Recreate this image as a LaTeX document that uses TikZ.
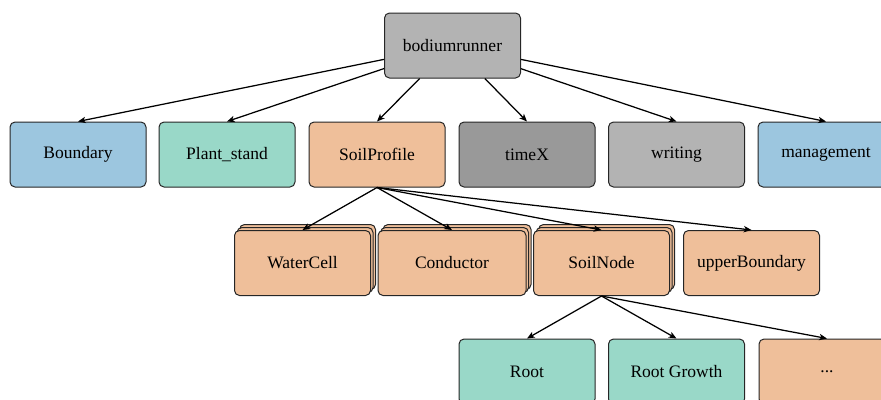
\documentclass[tikz,border=0pt]{standalone}
\usepackage{fontspec}
\setmainfont{Liberation Serif}
\usetikzlibrary{shadows,arrows.meta}
\definecolor{cblue}{HTML}{9CC6DF}
\definecolor{cgreen}{HTML}{99D8C8}
\definecolor{corange}{HTML}{EFBF9A}
\definecolor{cgrayA}{HTML}{B3B3B3}
\definecolor{cgrayB}{HTML}{999999}
\tikzset{
  box/.style={draw=black!85, line width=0.6pt, rounded corners=3pt,
    minimum width=81.6pt, minimum height=39pt, inner sep=0pt,
    font=\fontsize{10.5}{12}\selectfont},
  stackbox/.style={double copy shadow={shadow xshift=1.5pt, shadow yshift=1.8pt,
    fill=#1, draw=black!85, line width=0.6pt}},
  edge/.style={-{Stealth[length=4.6pt, width=3.8pt, inset=1.2pt]}, line width=0.75pt}
}
\begin{document}
\begin{tikzpicture}[x=0.6pt, y=0.6pt]
\clip (0,0) rectangle (881,-399);
% level 0
\node[box, fill=cgrayA] (root) at (452.5,-45.5) {bodiumrunner};
% level 1
\node[box, fill=cblue]   (bnd)  at (78,-154.5)    {Boundary};
\node[box, fill=cgreen]  (ps)   at (227,-154.5)   {Plant\_stand};
\node[box, fill=corange] (sp)   at (377,-154.5)   {SoilProfile};
\node[box, fill=cgrayB]  (tx)   at (527,-154.5)   {timeX};
\node[box, fill=cgrayA]  (wr)   at (676.5,-154.5) {writing};
\node[box, fill=cblue]   (mg)   at (826,-154.5)   {management};
% level 2
\node[box, fill=corange, stackbox=corange] (wc) at (302.5,-263) {WaterCell};
\node[box, fill=corange, stackbox=corange, minimum width=88.8pt] (cd) at (452,-263) {Conductor};
\node[box, fill=corange, stackbox=corange] (sn) at (601.5,-263) {SoilNode};
\node[box, fill=corange] (ub) at (751.5,-263) {upperBoundary};
% level 3
\node[box, fill=cgreen]  (rt) at (527,-371.5)   {Root};
\node[box, fill=cgreen]  (rg) at (676.5,-371.5) {Root Growth};
\node[box, fill=corange] (dd) at (827,-371.5)   {...};
% edges
\foreach \c in {bnd,ps,sp,tx,wr,mg} \draw[edge] (root) -- (\c.north);
\foreach \c in {wc,cd,sn,ub} \draw[edge] (sp.south) -- (\c.north);
\foreach \c in {rt,rg,dd} \draw[edge] (sn.south) -- (\c.north);
\end{tikzpicture}
\end{document}
